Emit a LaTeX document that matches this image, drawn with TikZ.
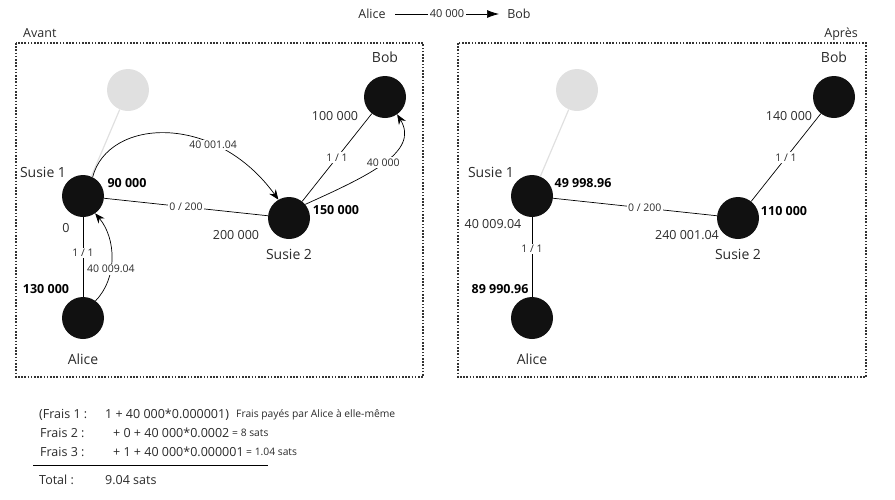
\documentclass[tikz,border=0pt]{standalone}
\usepackage{fontspec}
\setmainfont{Open Sans}
\usetikzlibrary{arrows.meta}
\definecolor{nodeblack}{HTML}{111111}
\definecolor{ghostgray}{HTML}{E0E0E0}
\definecolor{txt}{HTML}{2A2A2A}
\definecolor{framegray}{HTML}{333333}
\begin{document}
\begin{tikzpicture}[x=1pt,y=-1pt,
  nd/.style={circle,fill=nodeblack,minimum size=42pt,inner sep=0pt},
  ghost/.style={circle,fill=ghostgray,minimum size=42pt,inner sep=0pt},
  nm/.style={font=\fontsize{14}{16}\selectfont,text=txt,inner sep=1pt},
  num/.style={font=\fontsize{12.5}{14}\selectfont,text=txt,inner sep=1pt},
  bnum/.style={font=\fontsize{12.5}{14}\selectfont\bfseries,text=black,inner sep=1pt},
  elab/.style={font=\fontsize{10.5}{12}\selectfont,text=txt,fill=white,inner sep=1.5pt},
  bt/.style={font=\fontsize{12.5}{14}\selectfont,text=txt,inner sep=0pt,anchor=base west},
  st/.style={font=\fontsize{10.3}{12}\selectfont,text=txt,inner sep=0pt,anchor=base west},
  link/.style={draw=black,line width=0.7pt},
  glink/.style={draw=ghostgray,line width=1.2pt},
  flow/.style={draw=black,line width=0.7pt,-{Stealth[length=10pt,width=8pt]}},
  framebox/.style={draw=framegray,line width=1.6pt,dash pattern=on 1.6pt off 1.6pt},
]
\useasboundingbox (0,0) rectangle (895,499);

% header
\node[font=\fontsize{12.5}{14}\selectfont,text=txt,inner sep=0pt] (ha) at (372,14) {Alice};
\node[font=\fontsize{12.5}{14}\selectfont,text=txt,inner sep=0pt] (hb) at (519,14) {Bob};
\coordinate (hs) at (395,14);
\coordinate (he) at (499,14);
\draw[line width=0.7pt,-{Latex[length=12pt,width=8pt]}] (hs) -- node[elab,font=\fontsize{11}{12}\selectfont]{40 000} (he);

% frames
\coordinate (f1a) at (16,43); \coordinate (f1b) at (423,377);
\coordinate (f2a) at (458,43); \coordinate (f2b) at (866,377);
\draw[framebox] (f1a) rectangle (f1b);
\draw[framebox] (f2a) rectangle (f2b);
\node[font=\fontsize{12.5}{14}\selectfont,text=txt,inner sep=0pt,anchor=base west] (avant) at (23,37.5) {Avant};
\node[font=\fontsize{12.5}{14}\selectfont,text=txt,inner sep=0pt,anchor=base east] (apres) at (858,37.5) {Après};

% ---------- left (Avant) ----------
\node[ghost] (g1) at (128,90) {};
\node[nd] (b1) at (385,97) {};
\node[nd] (s11) at (83,196) {};
\node[nd] (s21) at (289,218) {};
\node[nd] (a1) at (83,318) {};

\draw[glink] (s11) -- (g1);
\draw[link] (s11) -- node[elab]{0 / 200} (s21);
\draw[link] (s21) -- node[elab]{1 / 1} (b1);
\draw[link] (a1) -- node[elab,pos=0.55]{1 / 1} (s11);

\draw[flow] (a1.54) .. controls (118,278) and (116,238) .. node[elab,pos=0.38]{40 009.04} (s11.-55);
\draw[flow] (s11.63) .. controls (108,118) and (215,112) .. node[elab,pos=0.7]{40 001.04} (s21.120);
\draw[flow] (s21.40) .. controls (368,176) and (420,152) .. node[elab,pos=0.5]{40 000} (b1.-55);

\node[nm] (lb1) at (385,57) {Bob};
\node[nm] (ls11) at (43,172) {Susie 1};
\node[nm] (ls21) at (289,254) {Susie 2};
\node[nm] (la1) at (83,359) {Alice};
\node[bnum] (n90) at (127,183) {90 000};
\node[num] (n0) at (66,228) {0};
\node[num] (n200) at (236,235) {200 000};
\node[bnum] (n150) at (336,210) {150 000};
\node[num] (n100) at (335,116) {100 000};
\node[bnum] (n130) at (46,289) {130 000};

% ---------- right (Après) ----------
\node[ghost] (g2) at (577,90) {};
\node[nd] (b2) at (834,97) {};
\node[nd] (s12) at (532,196) {};
\node[nd] (s22) at (738,218) {};
\node[nd] (a2) at (532,318) {};

\draw[glink] (s12) -- (g2);
\draw[link] (s12) -- node[elab,pos=0.56]{0 / 200} (s22);
\draw[link] (s22) -- node[elab]{1 / 1} (b2);
\draw[link] (a2) -- node[elab,pos=0.6]{1 / 1} (s12);

\node[nm] (lb2) at (834,57) {Bob};
\node[nm] (ls12) at (491,172) {Susie 1};
\node[nm] (ls22) at (738,254) {Susie 2};
\node[nm] (la2) at (532,359) {Alice};
\node[bnum] (m49) at (583,183) {49 998.96};
\node[num] (m40) at (493,224) {40 009.04};
\node[num] (m240) at (687,235) {240 001.04};
\node[bnum] (m110) at (784,211) {110 000};
\node[num] (m140) at (789,116) {140 000};
\node[bnum] (m89) at (500,289) {89 990.96};

% ---------- fees ----------
\node[bt] (t1a) at (39,418) {(Frais 1 :};
\node[bt] (t1b) at (105,418) {1 + 40 000*0.000001)};
\node[st] (t1c) at (236,417) {Frais payés par Alice à elle-même};
\node[bt] (t2a) at (40,437) {Frais 2 :};
\node[bt] (t2b) at (113,437) {+ 0 + 40 000*0.0002};
\node[st] (t2c) at (232,436) {= 8 sats};
\node[bt] (t3a) at (40,456) {Frais 3 :};
\node[bt] (t3b) at (113,456) {+ 1 + 40 000*0.000001};
\node[st] (t3c) at (246,455) {= 1.04 sats};
\coordinate (ra) at (33,465); \coordinate (rb) at (268,465);
\draw[line width=0.8pt,black] (ra) -- (rb);
\node[bt] (tta) at (39,484) {Total :};
\node[bt] (ttb) at (105,484) {9.04 sats};
\end{tikzpicture}
\end{document}
